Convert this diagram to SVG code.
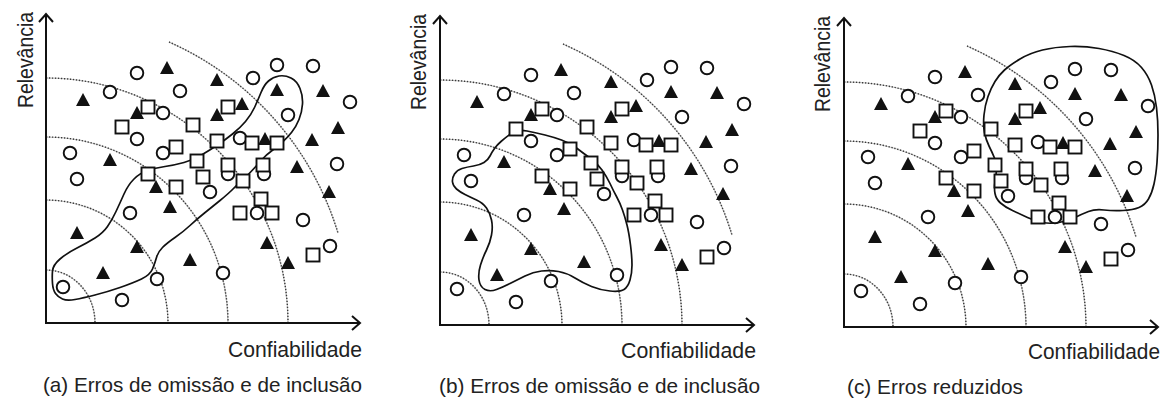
<svg xmlns="http://www.w3.org/2000/svg" width="1166" height="402" viewBox="0 0 1166 402">
<style>
.ax{stroke:#111;stroke-width:2;fill:none}
.arcA{fill:none;stroke:#c4c4c4;stroke-width:1.2}
.arcB{fill:none;stroke:#3a3a3a;stroke-width:1.4;stroke-dasharray:1.3 1.7}
.blob{fill:none;stroke:#111;stroke-width:1.7;stroke-linejoin:round}
.o{fill:#fff;stroke:#111;stroke-width:1.9}
.s{fill:#fff;stroke:#111;stroke-width:1.9}
.t{fill:#111}
text{font-family:"Liberation Sans",Arial,sans-serif;fill:#222}
</style>
<defs>
<circle id="o" r="6.3" class="o"/>
<rect id="s" x="-6.5" y="-6.5" width="13" height="13" class="s"/>
<path id="t" d="M0,-7L7,6H-7Z" class="t"/>
<g id="arcs">
<path class="arcA" d="M46,270A49,53 0 0 1 95,323M46,200A122,123 0 0 1 168,323M46,137A182,186 0 0 1 228,323M46,78A242,245 0 0 1 288,323M169,42A306,306 0 0 1 338,233"/>
<path class="arcB" d="M46,270A49,53 0 0 1 95,323M46,200A122,123 0 0 1 168,323M46,137A182,186 0 0 1 228,323M46,78A242,245 0 0 1 288,323M169,42A306,306 0 0 1 338,233"/>
</g>
<g id="axes">
<path class="ax" d="M46,14V323H360"/>
<path class="ax" d="M39,22L46,14L53,22M352,316L360,323L352,330"/>
</g>
<g id="pts">
<use href="#o" x="137" y="73"/><use href="#o" x="110" y="92"/><use href="#o" x="180" y="91"/><use href="#o" x="253" y="78"/><use href="#o" x="277" y="65"/><use href="#o" x="313" y="66"/><use href="#o" x="350" y="102"/><use href="#o" x="163" y="113"/><use href="#o" x="288" y="115"/><use href="#o" x="137" y="139"/><use href="#o" x="240" y="138"/><use href="#o" x="70" y="153"/><use href="#o" x="163" y="153"/><use href="#o" x="77" y="179"/><use href="#o" x="337" y="164"/><use href="#o" x="228" y="174"/><use href="#o" x="264" y="174"/><use href="#o" x="210" y="192"/><use href="#o" x="130" y="213"/><use href="#o" x="257" y="213"/><use href="#o" x="303" y="220"/><use href="#o" x="330" y="246"/><use href="#o" x="223" y="273"/><use href="#o" x="157" y="279"/><use href="#o" x="63" y="287"/><use href="#o" x="122" y="300"/>
<use href="#t" x="167" y="68"/><use href="#t" x="217" y="80"/><use href="#t" x="83" y="100"/><use href="#t" x="277" y="90"/><use href="#t" x="323" y="91"/><use href="#t" x="242" y="104"/><use href="#t" x="137" y="113"/><use href="#t" x="217" y="115"/><use href="#t" x="338" y="128"/><use href="#t" x="265" y="139"/><use href="#t" x="312" y="140"/><use href="#t" x="110" y="160"/><use href="#t" x="297" y="167"/><use href="#t" x="156" y="187"/><use href="#t" x="329" y="192"/><use href="#t" x="170" y="207"/><use href="#t" x="77" y="233"/><use href="#t" x="137" y="247"/><use href="#t" x="267" y="243"/><use href="#t" x="190" y="260"/><use href="#t" x="288" y="263"/><use href="#t" x="103" y="273"/>
<use href="#s" x="148" y="107"/><use href="#s" x="228" y="107"/><use href="#s" x="122" y="127"/><use href="#s" x="193" y="125"/><use href="#s" x="217" y="141"/><use href="#s" x="252" y="143"/><use href="#s" x="277" y="143"/><use href="#s" x="176" y="147"/><use href="#s" x="197" y="161"/><use href="#s" x="228" y="165"/><use href="#s" x="263" y="165"/><use href="#s" x="148" y="174"/><use href="#s" x="203" y="177"/><use href="#s" x="243" y="181"/><use href="#s" x="176" y="187"/><use href="#s" x="261" y="199"/><use href="#s" x="240" y="213"/><use href="#s" x="272" y="213"/><use href="#s" x="313" y="255"/>
</g>
</defs>
<rect width="1166" height="402" fill="#fff"/>

<g id="panel-a">
<use href="#arcs"/>
<path id="blob-a" class="blob" d="M52.5,283.5Q52,277 52.5,271Q53,265 60,259Q67,253 77,248Q87,243 95,238Q103,233 107.5,226.5Q112,220 116,211.5Q120,203 124,194Q128,185 134,179Q140,173 147.5,170.5Q155,168 165,166.5Q175,165 184,162.5Q193,160 201.5,155Q210,150 217.5,145Q225,140 232.5,134Q240,128 245.5,121.5Q251,115 254.5,107.5Q258,100 261,92.5Q264,85 268.5,81Q273,77 279,76Q285,75 291,78Q297,81 300,88.5Q303,96 302.5,104Q302,112 299,119.5Q296,127 291.5,132.5Q287,138 282,142.5Q277,147 271.5,151Q266,155 262,159.5Q258,164 253,169.5Q248,175 243,179.5Q238,184 233,189Q228,194 220,200.5Q212,207 204.5,213Q197,219 190,225.5Q183,232 175,237.5Q167,243 162.5,247.5Q158,252 156.5,257.5Q155,263 152.5,269Q150,275 141.5,279Q133,283 120,287.5Q107,292 95,295Q83,298 75,299.5Q67,301 62.5,299Q58,297 55.5,293.5Q53,290 52.5,283.5Z"/>
<use href="#pts"/>
<use href="#axes"/>
<text transform="translate(33,60) rotate(-90)" text-anchor="middle" font-size="22" textLength="96" lengthAdjust="spacingAndGlyphs">Relevância</text>
<text x="228" y="357" font-size="21.5" textLength="134" lengthAdjust="spacingAndGlyphs">Confiabilidade</text>
<text x="43" y="392" font-size="21" textLength="319" lengthAdjust="spacingAndGlyphs">(a) Erros de omissão e de inclusão</text>
</g>

<g id="panel-b">
<g transform="translate(394,2)">
<use href="#arcs"/>
</g>
<path id="blob-b" class="blob" d="M511,133.5Q517,129 527,131Q537,133 545,135Q553,137 561.5,140Q570,143 576.5,148Q583,153 590,158Q597,163 602,170Q607,177 610,183.5Q613,190 616.5,196.5Q620,203 622.5,210Q625,217 627,225Q629,233 630.5,245Q632,257 632,265Q632,273 630,280Q628,287 624,289.5Q620,292 610,291Q600,290 591.5,286.5Q583,283 575,278Q567,273 558.5,271.5Q550,270 541.5,271Q533,272 525,276Q517,280 510,283.5Q503,287 496.5,289.5Q490,292 485,289.5Q480,287 479,280Q478,273 480.5,265Q483,257 486.5,250Q490,243 491.5,235Q493,227 491.5,220Q490,213 486.5,208Q483,203 476.5,200Q470,197 465,194.5Q460,192 456.5,189Q453,186 452.5,182Q452,178 454.5,174Q457,170 462,168.5Q467,167 473.5,166Q480,165 484,162.5Q488,160 490,156Q492,152 494.5,148.5Q497,145 501,141.5Q505,138 511,133.5Z"/>
<g transform="translate(394,2)">
<use href="#pts"/>
<use href="#axes"/>
</g>
<text transform="translate(426,62) rotate(-90)" text-anchor="middle" font-size="22" textLength="96" lengthAdjust="spacingAndGlyphs">Relevância</text>
<text x="621" y="358" font-size="21.5" textLength="135" lengthAdjust="spacingAndGlyphs">Confiabilidade</text>
<text x="439" y="393" font-size="21" textLength="321" lengthAdjust="spacingAndGlyphs">(b) Erros de omissão e de inclusão</text>
</g>

<g id="panel-c">
<g transform="translate(798,4)">
<use href="#arcs"/>
</g>
<path id="blob-c" class="blob" d="M1004.5,70Q1010,65 1020,59Q1030,53 1042.5,50Q1055,47 1070,46.5Q1085,46 1099,48.5Q1113,51 1124,55.5Q1135,60 1141.5,67.5Q1148,75 1151.5,85Q1155,95 1156.5,107.5Q1158,120 1158,135Q1158,150 1157,162.5Q1156,175 1154,184Q1152,193 1148.5,199Q1145,205 1139,207.5Q1133,210 1123,210.5Q1113,211 1104,210Q1095,209 1088.5,211.5Q1082,214 1075,217.5Q1068,221 1059,222.5Q1050,224 1042.5,222.5Q1035,221 1027.5,217.5Q1020,214 1012.5,210.5Q1005,207 1000.5,203Q996,199 995,193.5Q994,188 995,182Q996,176 996.5,170Q997,164 994.5,158Q992,152 989,146Q986,140 984.5,132.5Q983,125 984,115Q985,105 988,96.5Q991,88 995,81.5Q999,75 1004.5,70Z"/>
<g transform="translate(798,4)">
<use href="#pts"/>
<use href="#axes"/>
</g>
<text transform="translate(830,64) rotate(-90)" text-anchor="middle" font-size="22" textLength="96" lengthAdjust="spacingAndGlyphs">Relevância</text>
<text x="1028" y="359" font-size="21.5" textLength="132" lengthAdjust="spacingAndGlyphs">Confiabilidade</text>
<text x="847" y="394" font-size="21" textLength="176" lengthAdjust="spacingAndGlyphs">(c) Erros reduzidos</text>
</g>
</svg>
